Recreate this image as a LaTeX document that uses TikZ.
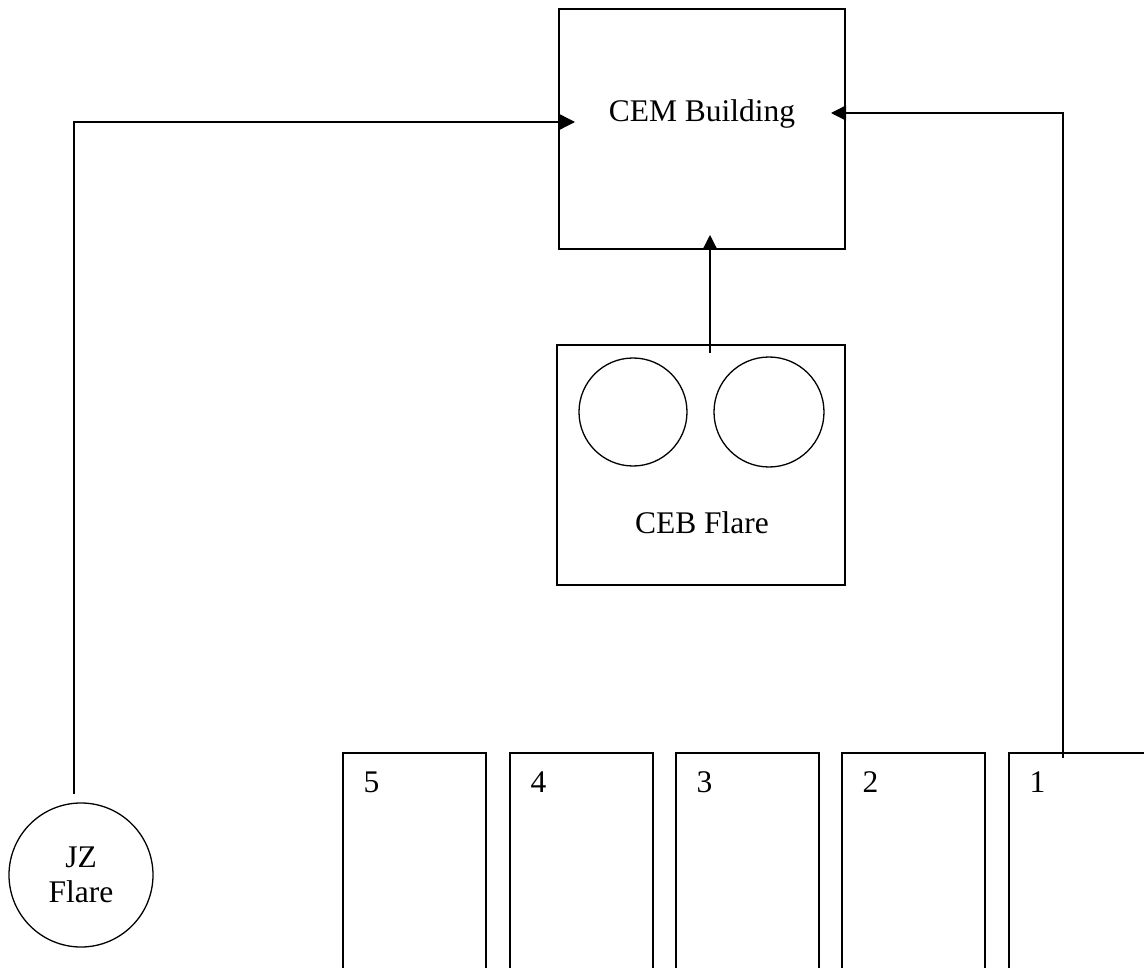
\documentclass[tikz,border=0pt]{standalone}
\usepackage{fontspec}
\setmainfont{Liberation Serif}
\usetikzlibrary{arrows.meta,calc}
\begin{document}
\begin{tikzpicture}[x=1pt,y=-1pt,
  every node/.style={font=\fontsize{31.5}{35}\selectfont},
  blk/.style={draw,line width=1.3pt,inner sep=0pt},
  bay/.style={blk,minimum width=143pt,minimum height=260pt},
  conn/.style={line width=1.3pt},
  arr/.style={conn,-{Triangle[length=15pt,width=15pt]}},
  num/.style={anchor=base west,inner sep=0pt}]
\useasboundingbox (0,0) rectangle (1144,968);
\clip (0,0) rectangle (1144,968);
% main blocks
\node[blk,minimum width=286pt,minimum height=240pt] (cem) at (702,129) {};
\node[anchor=base,inner sep=0pt] (cemlbl) at (702,122) {CEM Building};
\node[blk,minimum width=288pt,minimum height=240pt] (ceb) at (701,465) {};
\node[blk,circle,minimum size=108pt] (c1) at (633,412) {};
\node[blk,circle,minimum size=110pt] (c2) at (769,412) {};
\node[anchor=base,inner sep=0pt] (ceblbl) at (702,533) {CEB Flare};
\node[blk,circle,minimum size=144pt,align=center] (jz) at (81,875) {JZ\\Flare};
% bays
\node[bay] (b5) at (414.5,883) {};
\node[bay] (b4) at (581.5,883) {};
\node[bay] (b3) at (747.5,883) {};
\node[bay] (b2) at (913.5,883) {};
\node[bay] (b1) at (1080.5,883) {};
\foreach \b/\t in {b5/5,b4/4,b3/3,b2/2,b1/1}
  \node[num] (\b lbl) at ($(\b.north west)+(21,40)$) {\t};
% connector end points
\coordinate (jztop) at (74,794);
\coordinate (lc) at (74,122);
\coordinate (ltip) at (575,122);
\coordinate (b1top) at (1063,758);
\coordinate (rc) at (1063,113);
\coordinate (rtip) at (831,113);
\coordinate (cebtop) at (710,353);
\coordinate (mtip) at (710,235);
% connectors
\draw[arr] (jztop) -- (lc) -- (ltip);
\draw[arr] (b1top) -- (rc) -- (rtip);
\draw[arr] (cebtop) -- (mtip);
\end{tikzpicture}
\end{document}
